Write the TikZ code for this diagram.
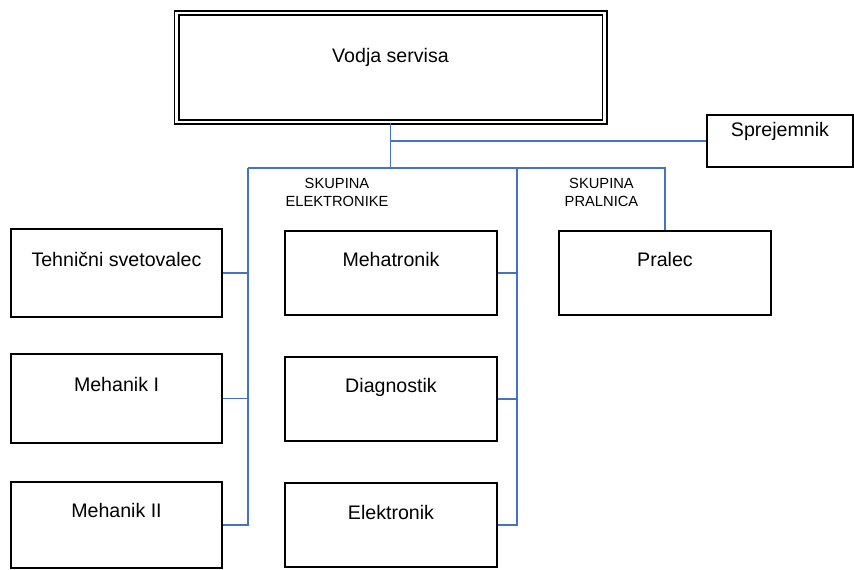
\documentclass[tikz,border=0pt]{standalone}
\usepackage{fontspec}
\setmainfont{Liberation Sans}
\begin{document}
\begin{tikzpicture}[x=1pt,y=-1pt,
  unit/.style={draw=black, line width=1.8pt, rectangle, inner sep=0pt},
  title/.style={font=\fontsize{19.6}{23}\selectfont, anchor=base, inner sep=0pt},
  group/.style={font=\fontsize{14.7}{18}\selectfont, align=center, anchor=base, inner sep=0pt},
  link/.style={draw={rgb,255:red,68;green,114;blue,196}, line width=1.7pt}]
  \useasboundingbox (0,0) rectangle (854,570);

  % head of the service, framed with a double line
  \node[draw=black, line width=1.7pt, double, double distance=2.6pt, inner sep=0pt,
        minimum width=428pt, minimum height=109pt] (head) at (390.5,67.5) {};
  \node[title] (headtxt) at ([yshift=-50pt]head.north) {Vodja servisa};

  % reception
  \node[unit, minimum width=146pt, minimum height=52pt] (rec) at (780,141) {};
  \node[title] (rectxt) at ([yshift=-22pt]rec.north) {Sprejemnik};

  % left column
  \node[unit, minimum width=211pt, minimum height=88pt] (adv) at (116.5,273) {};
  \node[title] (advtxt) at ([yshift=-38pt]adv.north) {Tehnični svetovalec};
  \node[unit, minimum width=211pt, minimum height=89pt] (mechA) at (116.5,398.5) {};
  \node[title] (mechAtxt) at ([yshift=-38.5pt]mechA.north) {Mehanik I};
  \node[unit, minimum width=211pt, minimum height=86pt] (mechB) at (116.5,525) {};
  \node[title] (mechBtxt) at ([yshift=-36.5pt]mechB.north) {Mehanik II};

  % electronics group
  \node[unit, minimum width=212pt, minimum height=84pt] (mecha) at (391,273) {};
  \node[title] (mechatxt) at ([yshift=-36pt]mecha.north) {Mehatronik};
  \node[unit, minimum width=212pt, minimum height=84pt] (diag) at (391,399) {};
  \node[title] (diagtxt) at ([yshift=-36pt]diag.north) {Diagnostik};
  \node[unit, minimum width=212pt, minimum height=84pt] (elec) at (391,525) {};
  \node[title] (electxt) at ([yshift=-37pt]elec.north) {Elektronik};
  \node[group] (grpE) at (337,206) {SKUPINA\\ELEKTRONIKE};

  % washing group
  \node[unit, minimum width=212pt, minimum height=84pt] (wash) at (665,273) {};
  \node[title] (washtxt) at ([yshift=-36pt]wash.north) {Pralec};
  \node[group] (grpW) at (601.5,206) {SKUPINA\\PRALNICA};

  % bus points
  \coordinate (trunk) at (head.south |- 0,168);
  \coordinate (recJ) at (head.south |- rec.west);
  \coordinate (busL) at (248,168);
  \coordinate (busM) at (517,168);
  \coordinate (busR) at (wash.north |- 0,168);
  \coordinate (dropL) at (busL |- mechB.east);
  \coordinate (dropM) at (busM |- elec.east);

  % connectors
  \draw[link] (head.south) -- (trunk);
  \draw[link] (recJ) -- (rec.west);
  \draw[link] (busL) -- (busR) -- (wash.north);
  \draw[link] (busL) -- (dropL) -- (mechB.east);
  \draw[link] (busM) -- (dropM) -- (elec.east);
  \draw[link] (adv.east) -- (busL |- adv.east);
  \draw[link] (mechA.east) -- (busL |- mechA.east);
  \draw[link] (mecha.east) -- (busM |- mecha.east);
  \draw[link] (diag.east) -- (busM |- diag.east);
\end{tikzpicture}
\end{document}
